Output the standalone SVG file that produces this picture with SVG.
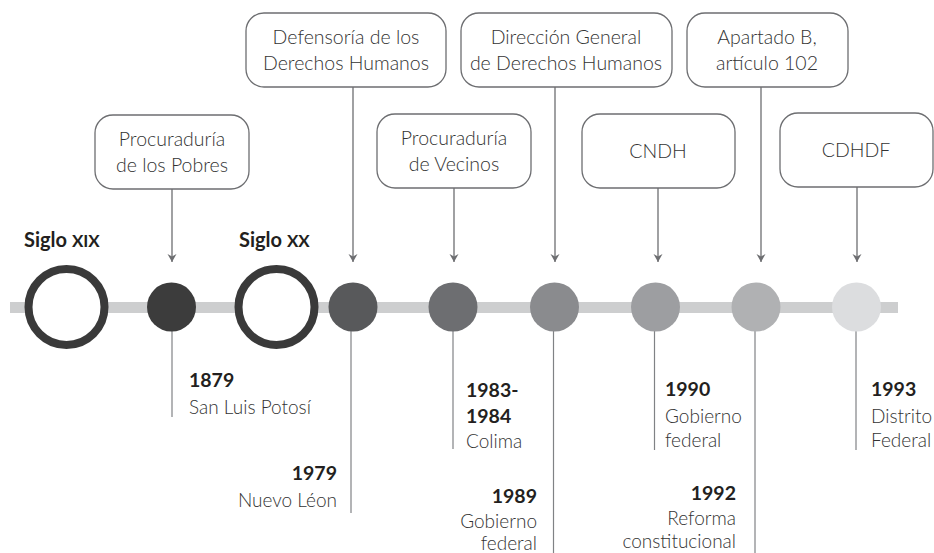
<svg xmlns="http://www.w3.org/2000/svg" width="934" height="553" viewBox="0 0 934 553">
<style>
.box{fill:#fff;stroke:#6d6e71;stroke-width:1.3}
.bt{font-family:Lato,Roboto,"Liberation Sans",sans-serif;font-weight:300;font-size:19.5px;fill:#333;text-anchor:middle}
.yr{font-family:Lato,Roboto,"Liberation Sans",sans-serif;font-weight:700;font-size:19.5px;fill:#231f20}
.pl{font-family:Lato,Roboto,"Liberation Sans",sans-serif;font-weight:300;font-size:19px;fill:#333}
.sg{font-family:Lato,Roboto,"Liberation Sans",sans-serif;font-weight:700;font-size:20px;fill:#231f20}
.con{stroke:#6d6e71;stroke-width:1.3;fill:none}
.tick{stroke:#808285;stroke-width:1.2;fill:none}
.ring{fill:#fff;stroke:#3a3a3a;stroke-width:8}
</style>
<defs>
<marker id="ah" markerWidth="9" markerHeight="10" refX="8" refY="4.5" orient="auto" markerUnits="userSpaceOnUse" viewBox="0 0 9 9">
<path d="M0,0 L8,4.5 L0,9 L2.5,4.5 Z" fill="#6d6e71"/>
</marker>
</defs>
<rect x="10" y="302" width="888" height="11" fill="#cdcecf"/>
<g id="connectors">
<line class="con" x1="172" y1="189" x2="172" y2="262" marker-end="url(#ah)"/>
<line class="con" x1="353" y1="87" x2="353" y2="262" marker-end="url(#ah)"/>
<line class="con" x1="454" y1="188" x2="454" y2="262" marker-end="url(#ah)"/>
<line class="con" x1="555" y1="87" x2="555" y2="262" marker-end="url(#ah)"/>
<line class="con" x1="658" y1="188" x2="658" y2="262" marker-end="url(#ah)"/>
<line class="con" x1="761" y1="87" x2="761" y2="262" marker-end="url(#ah)"/>
<line class="con" x1="857" y1="187" x2="857" y2="262" marker-end="url(#ah)"/>
<line class="tick" x1="172" y1="330" x2="172" y2="417"/>
<line class="tick" x1="351" y1="330" x2="351" y2="513"/>
<line class="tick" x1="453" y1="330" x2="453" y2="449"/>
<line class="tick" x1="553.5" y1="330" x2="553.5" y2="553"/>
<line class="tick" x1="654.5" y1="330" x2="654.5" y2="450"/>
<line class="tick" x1="755" y1="330" x2="755" y2="553"/>
<line class="tick" x1="856" y1="330" x2="856" y2="450"/>
</g>
<g id="siglo-xix">
<circle class="ring" cx="66.5" cy="307" r="38"/>
<text class="sg" x="24" y="247">Siglo <tspan font-size="17">XIX</tspan></text>
</g>
<g id="siglo-xx">
<circle class="ring" cx="276.5" cy="307" r="38"/>
<text class="sg" x="239" y="247">Siglo <tspan font-size="17">XX</tspan></text>
</g>
<g id="e1879">
<circle cx="171.5" cy="307" r="24.5" fill="#3c3c3c"/>
<rect class="box" x="95" y="115" width="154" height="74" rx="18"/>
<text class="bt" x="172" y="146">Procuraduría</text>
<text class="bt" x="172" y="172">de los Pobres</text>
<text class="yr" x="189" y="387">1879</text>
<text class="pl" x="189" y="414">San Luis Potosí</text>
</g>
<g id="e1979">
<circle cx="353" cy="307" r="24.5" fill="#58595b"/>
<rect class="box" x="246" y="13" width="200" height="74" rx="18"/>
<text class="bt" x="346" y="44">Defensoría de los</text>
<text class="bt" x="346" y="70">Derechos Humanos</text>
<text class="yr" x="337" y="480" text-anchor="end">1979</text>
<text class="pl" x="337" y="507" text-anchor="end">Nuevo Léon</text>
</g>
<g id="e1983">
<circle cx="453" cy="307" r="24.5" fill="#6d6e71"/>
<rect class="box" x="377" y="114" width="154" height="74" rx="18"/>
<text class="bt" x="454" y="145">Procuraduría</text>
<text class="bt" x="454" y="171">de Vecinos</text>
<text class="yr" x="466" y="397">1983-</text>
<text class="yr" x="466" y="423">1984</text>
<text class="pl" x="466" y="448">Colima</text>
</g>
<g id="e1989">
<circle cx="554.5" cy="307" r="24.5" fill="#8a8b8e"/>
<rect class="box" x="461" y="13" width="211" height="74" rx="18"/>
<text class="bt" x="566" y="44">Dirección General</text>
<text class="bt" x="566" y="70">de Derechos Humanos</text>
<text class="yr" x="537" y="503" text-anchor="end">1989</text>
<text class="pl" x="537" y="528" text-anchor="end">Gobierno</text>
<text class="pl" x="537" y="550" text-anchor="end">federal</text>
</g>
<g id="e1990">
<circle cx="655.5" cy="307" r="24.5" fill="#9d9ea1"/>
<rect class="box" x="582" y="114" width="153" height="74" rx="18"/>
<text class="bt" x="658" y="158">CNDH</text>
<text class="yr" x="665" y="396">1990</text>
<text class="pl" x="665" y="423">Gobierno</text>
<text class="pl" x="665" y="447">federal</text>
</g>
<g id="e1992">
<circle cx="756" cy="307" r="24.5" fill="#b0b1b3"/>
<rect class="box" x="687" y="13" width="161" height="74" rx="18"/>
<text class="bt" x="767" y="44">Apartado B,</text>
<text class="bt" x="767" y="70">artículo 102</text>
<text class="yr" x="736" y="500" text-anchor="end">1992</text>
<text class="pl" x="736" y="525" text-anchor="end">Reforma</text>
<text class="pl" x="736" y="548" text-anchor="end">constitucional</text>
</g>
<g id="e1993">
<circle cx="856.5" cy="307" r="24.5" fill="#dcdddf"/>
<rect class="box" x="780" y="113" width="153" height="74" rx="18"/>
<text class="bt" x="856" y="157">CDHDF</text>
<text class="yr" x="871" y="396">1993</text>
<text class="pl" x="871" y="423">Distrito</text>
<text class="pl" x="871" y="447">Federal</text>
</g>
</svg>
